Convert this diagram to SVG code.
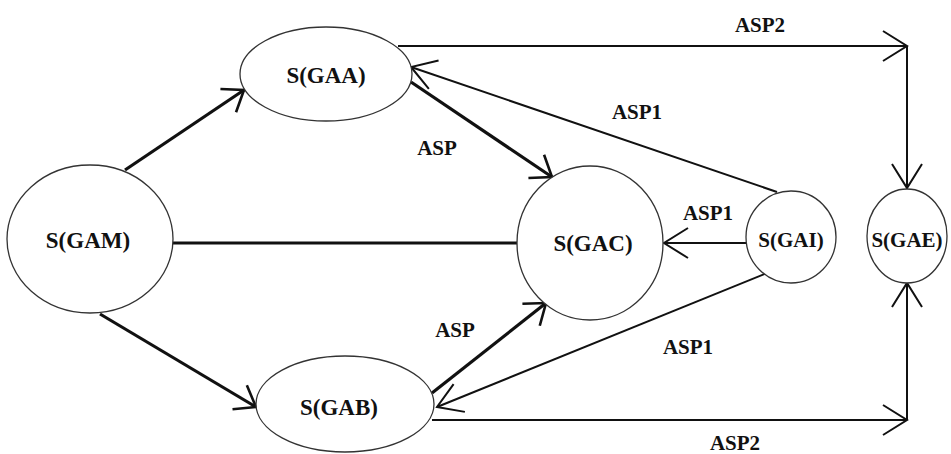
<svg xmlns="http://www.w3.org/2000/svg" width="951" height="454" viewBox="0 0 951 454">
<style>
.node ellipse{fill:#fff;stroke:#333;stroke-width:1.3}
text{font-family:"Liberation Serif","DejaVu Serif","Times New Roman",serif;font-weight:bold;fill:#111;text-anchor:middle;dominant-baseline:central}
.lbl{font-size:23px}
.sm{font-size:21px}
.elbl{font-size:21px}
.thick{stroke:#111;stroke-width:3.2;fill:none}
.thin{stroke:#111;stroke-width:2;fill:none}
</style>
<defs>
<marker id="ah" markerUnits="userSpaceOnUse" viewBox="-22 -16 24 32" refX="0" refY="0" markerWidth="24" markerHeight="32" orient="auto">
<path d="M-19,-14 L0,0 L-19,14" fill="none" stroke="#111" stroke-width="2.6"/>
</marker>
<marker id="ahT" markerUnits="userSpaceOnUse" viewBox="-26 -18 28 36" refX="0" refY="0" markerWidth="28" markerHeight="36" orient="auto">
<path d="M-24,-15 L0,0 L-24,15" fill="none" stroke="#111" stroke-width="2"/>
</marker>
</defs>
<rect width="951" height="454" fill="#fff"/>
<g id="connectors">
<path class="thick" d="M125,170 L244,90" marker-end="url(#ah)"/>
<path class="thick" d="M411,82 L552,177" marker-end="url(#ah)"/>
<path class="thick" d="M173,243 L518,243"/>
<path class="thick" d="M100,314 L256,407" marker-end="url(#ah)"/>
<path class="thick" d="M432,393 L546,303" marker-end="url(#ah)"/>
<path class="thin" d="M777,192 L411,67" marker-end="url(#ahT)"/>
<path class="thin" d="M746,243 L664,243" marker-end="url(#ahT)"/>
<path class="thin" d="M767,273 L437,407" marker-end="url(#ahT)"/>
<path class="thin" d="M398,46 L907,46" marker-end="url(#ahT)"/>
<path class="thin" d="M907,46 L907,188" marker-end="url(#ahT)"/>
<path class="thin" d="M432,420 L907,420" marker-end="url(#ahT)"/>
<path class="thin" d="M907,420 L907,283" marker-end="url(#ahT)"/>
<text class="elbl" x="760" y="25">ASP2</text>
<text class="elbl" x="637" y="112">ASP1</text>
<text class="elbl" x="437" y="148">ASP</text>
<text class="elbl" x="708" y="213">ASP1</text>
<text class="elbl" x="455" y="330">ASP</text>
<text class="elbl" x="688" y="347">ASP1</text>
<text class="elbl" x="735" y="443">ASP2</text>
</g>
<g id="GAM" class="node"><ellipse cx="90" cy="239" rx="83" ry="74"/><text class="lbl" x="88" y="240">S(GAM)</text></g>
<g id="GAA" class="node"><ellipse cx="326" cy="74" rx="86" ry="47"/><text class="lbl" x="326" y="75">S(GAA)</text></g>
<g id="GAB" class="node"><ellipse cx="345" cy="404" rx="89" ry="48"/><text class="lbl" x="339" y="407">S(GAB)</text></g>
<g id="GAC" class="node"><ellipse cx="590" cy="243" rx="73" ry="77"/><text class="lbl" x="593" y="243">S(GAC)</text></g>
<g id="GAI" class="node"><ellipse cx="791" cy="237" rx="45" ry="46"/><text class="sm" x="791" y="240">S(GAI)</text></g>
<g id="GAE" class="node"><ellipse cx="907" cy="236" rx="40" ry="47"/><text class="sm" x="907" y="240">S(GAE)</text></g>
</svg>
